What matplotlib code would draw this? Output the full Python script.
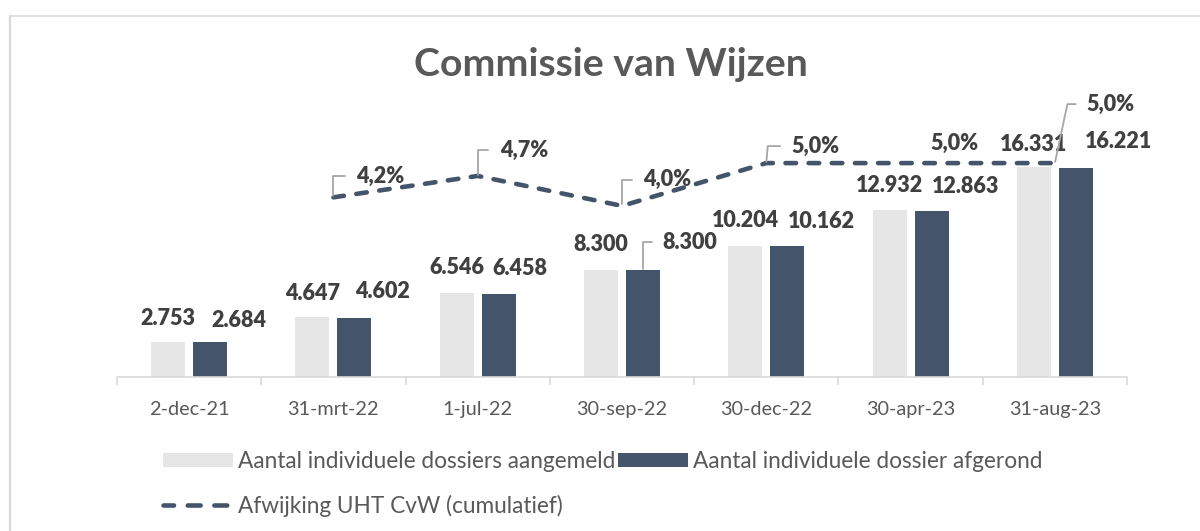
import numpy as np
import matplotlib
matplotlib.use("Agg")
import matplotlib.pyplot as plt
from matplotlib.lines import Line2D
from matplotlib.patches import Patch

plt.rcParams['font.family'] = ['Lato', 'DejaVu Sans']

# gegevens
datums = ["2-dec-21", "31-mrt-22", "1-jul-22", "30-sep-22", "30-dec-22", "30-apr-23", "31-aug-23"]
aangemeld = [2753, 4647, 6546, 8300, 10204, 12932, 16331]
afgerond = [2684, 4602, 6458, 8300, 10162, 12863, 16221]
afwijking = [np.nan, 4.2, 4.7, 4.0, 5.0, 5.0, 5.0]

LICHT = "#E7E6E6"
DONKER = "#44546A"
TEKST = "#404040"
GRIJS = "#595959"
LIJN = "#D9D9D9"
PX = 0.72  # pixels -> punten bij dpi 100

# label verschuivingen in pixels (dx, dy omhoog)
licht_dx = [0, 0, 0, 0, 0, 0, 0]
licht_dy = [23, 24, 25, 26, 25, 25, 22]
donker_dx = [29, 28, 21, 47, 34, 34, 43]
donker_dy = [22, 26, 25, 28, 25, 25, 26]
pct_dx = [0, 47, 46, 45, 49, 44, 56]
pct_dy = [0, 21, 26, 26, 17, 20, 59]
pct_leader = [None, 90, 90, 90, 85, None, 78]


def nl_getal(v):
    return f"{v:,}".replace(",", ".")


fig = plt.figure(figsize=(12, 5.31), dpi=100)
ax = fig.add_axes([117 / 1200, 154 / 531, 1010 / 1200, 317 / 531])
ax2 = ax.twinx()

x = np.arange(len(datums))
off = 0.1455
w = 0.235
ax.bar(x - off, aangemeld, w, color=LICHT, zorder=2)
ax.bar(x + off, afgerond, w, color=DONKER, zorder=2)

ax.set_xlim(-0.5, len(datums) - 0.5)
ax.set_ylim(0, 24600)
ax2.set_ylim(0, 7.41)

streep = (0, (2.3, 2.75))
ax2.plot(x, afwijking, color=DONKER, lw=3.3, linestyle=streep,
         dash_capstyle='round', zorder=3)

lbl = dict(fontsize=15.5, fontweight='heavy', color=TEKST, ha='center', va='center')
leader = dict(arrowstyle='-', color='#A6A6A6', lw=1.3, relpos=(0, 0.5), shrinkA=6, shrinkB=1)
for i in range(len(datums)):
    ax.annotate(nl_getal(aangemeld[i]), (x[i] - off, aangemeld[i]),
                xytext=(licht_dx[i] * PX, licht_dy[i] * PX),
                textcoords='offset points', **lbl)
    extra = {}
    if i == 3:
        extra['arrowprops'] = dict(leader, connectionstyle='angle,angleA=0,angleB=90,rad=0')
    ax.annotate(nl_getal(afgerond[i]), (x[i] + off, afgerond[i]),
                xytext=(donker_dx[i] * PX, donker_dy[i] * PX),
                textcoords='offset points', **lbl, **extra)

for i in range(1, len(datums)):
    tekst = f"{afwijking[i]:.1f}%".replace(".", ",")
    extra = {}
    if pct_leader[i] is not None:
        extra['arrowprops'] = dict(leader, connectionstyle=f'angle,angleA=0,angleB={pct_leader[i]},rad=0')
    ax2.annotate(tekst, (x[i], afwijking[i]),
                 xytext=(pct_dx[i] * PX, pct_dy[i] * PX),
                 textcoords='offset points', zorder=4, **lbl, **extra)

# assen
for a in (ax, ax2):
    for s in ('top', 'right', 'left'):
        a.spines[s].set_visible(False)
    a.set_yticks([])
ax2.spines['bottom'].set_visible(False)
ax.spines['bottom'].set_color(LIJN)
ax.spines['bottom'].set_linewidth(1.2)
ax.set_xticks(x)
ax.set_xticklabels(datums, fontsize=14.3, color=GRIJS)
ax.tick_params(axis='x', which='major', length=0, pad=17)
ax.set_xticks(np.arange(-0.5, len(datums)), minor=True)
ax.tick_params(axis='x', which='minor', length=6, width=1.2, color=LIJN)

fig.text(611 / 1200, 1 - 64 / 531, "Commissie van Wijzen", fontsize=28.3,
         fontweight='bold', color=GRIJS, ha='center', va='center')

# legenda
handles = [Patch(facecolor=LICHT, edgecolor='none'),
           Line2D([0], [0], color=DONKER, lw=3.3, linestyle=(0.5, (2.8, 3.0)),
                  dash_capstyle='round'),
           Patch(facecolor=DONKER, edgecolor='none')]
labels = ["Aantal individuele dossiers aangemeld",
          "Afwijking UHT CvW (cumulatief)",
          "Aantal individuele dossier afgerond"]
fig.legend(handles, labels, loc='upper left', bbox_to_anchor=(163 / 1200, 1 - 451 / 531),
           ncol=2, frameon=False, fontsize=16.3, labelcolor=GRIJS,
           handlelength=3.1, handleheight=0.57, handletextpad=0.22,
           columnspacing=0.12, labelspacing=1.0, borderpad=0, borderaxespad=0)

# rand
fig.add_artist(Line2D([10 / 1200, 1], [1 - 16 / 531, 1 - 16 / 531], color=LIJN, lw=1.2))
fig.add_artist(Line2D([10 / 1200, 10 / 1200], [0, 1 - 16 / 531], color=LIJN, lw=1.6))

fig.savefig("out.png", dpi=100)
